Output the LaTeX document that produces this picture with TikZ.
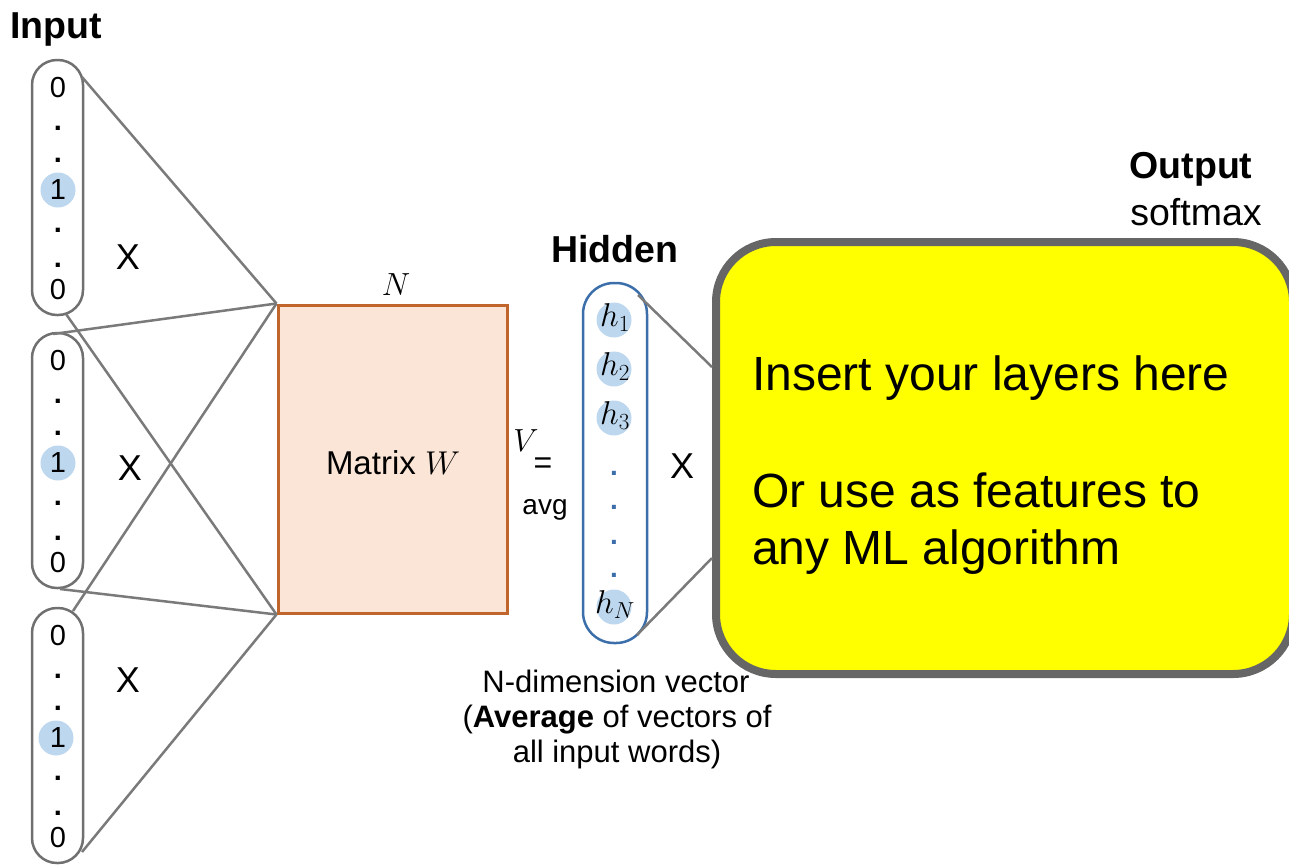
\RequirePackage{fix-cm}
\documentclass[tikz,border=0pt]{standalone}
\usepackage{fontspec}
\setmainfont{Liberation Sans}
\definecolor{vgray}{HTML}{707070}
\definecolor{lgray}{HTML}{7A7A7A}
\definecolor{hotblue}{HTML}{BDD7EE}
\definecolor{mfill}{HTML}{FBE5D6}
\definecolor{mborder}{HTML}{C0652B}
\definecolor{hblue}{HTML}{3C6FAA}
\definecolor{ygray}{HTML}{666666}
\definecolor{yfill}{HTML}{FFFF00}
\begin{document}
\begin{tikzpicture}[x=1pt,y=-1pt,
  vec/.style={draw=vgray, line width=2.5pt, rounded corners=25pt, minimum width=51pt, minimum height=255pt, inner sep=0pt},
  conn/.style={draw=lgray, line width=2.5pt},
  dig/.style={font=\fontsize{29}{32}\selectfont, inner sep=0pt},
  dotc/.style={font=\fontsize{29}{32}\selectfont\bfseries, inner sep=0pt},
  hot/.style={circle, fill=hotblue, minimum size=35pt, inner sep=0pt},
  hcirc/.style={circle, fill=hotblue, minimum size=35pt, inner sep=0pt},
  hlab/.style={font=\fontsize{33}{36}\selectfont, inner sep=0pt},
  hdot/.style={font=\fontsize{28}{30}\selectfont\bfseries, text=hblue, inner sep=0pt},
  bigx/.style={font=\fontsize{36}{40}\selectfont, inner sep=0pt},
  head/.style={font=\fontsize{37.5}{44}\selectfont\bfseries, inner sep=0pt, anchor=base},
  sub/.style={font=\fontsize{37.5}{44}\selectfont, inner sep=0pt, anchor=base},
  note/.style={font=\fontsize{31}{36}\selectfont, inner sep=0pt, anchor=base},
  ytext/.style={font=\fontsize{48}{58}\selectfont, inner sep=0pt, anchor=base west},
]
\clip (0,0) rectangle (1289,865);

% matrix W
\node[draw=mborder, fill=mfill, line width=3pt, minimum width=229pt, minimum height=308pt, inner sep=0pt] (W) at (392.5,459) {};
\node[font=\fontsize{33}{38}\selectfont, inner sep=0pt] (wl) at (393,463) {Matrix $W$};
\node[font=\fontsize{32}{36}\selectfont, inner sep=0pt] (nl) at (396,285) {$N$};

% input vectors
\node[head, anchor=base west] (inp) at (10,38) {Input};
\foreach \n/\t/\cx in {1/60/58,2/333/58,3/608/56}{
  \node[vec] (v\n) at (57.5,\t+127.5) {};
  \node[hot] (hc\n) at (\cx,\t+130) {};
  \node[dig] (d\n a) at (58,\t+28) {0};
  \node[dotc] (d\n b) at (58,\t+68) {.};
  \node[dotc] (d\n c) at (58,\t+100) {.};
  \node[dig] (d\n d) at (58,\t+130) {1};
  \node[dotc] (d\n e) at (58,\t+170) {.};
  \node[dotc] (d\n f) at (58,\t+205) {.};
  \node[dig] (d\n g) at (58,\t+230) {0};
}
\node[bigx] (x1) at (128,257) {X};
\node[bigx] (x2) at (130,468) {X};
\node[bigx] (x3) at (128,680) {X};

% connectors input -> matrix
\coordinate (a1) at (82,77);
\coordinate (b1) at (66,314);
\coordinate (a2) at (53,334);
\coordinate (b2) at (60,589);
\coordinate (a3) at (73,611);
\coordinate (b3) at (82,852);
\draw[conn] (a1) -- (W.north west);
\draw[conn] (b1) -- (W.south west);
\draw[conn] (a2) -- (W.north west);
\draw[conn] (b2) -- (W.south west);
\draw[conn] (a3) -- (W.north west);
\draw[conn] (b3) -- (W.south west);

% V = avg
\node[font=\fontsize{32}{36}\selectfont, inner sep=0pt] (vv) at (526,441) {$V$};
\node[font=\fontsize{32}{36}\selectfont, inner sep=0pt] (eq) at (543,466) {=};
\node[font=\fontsize{28}{32}\selectfont, inner sep=0pt, anchor=base] (avg) at (545,514) {avg};

% hidden
\node[head] (hid) at (615,262) {Hidden};
\node[draw=hblue, line width=2.5pt, rounded corners=31pt, minimum width=64pt, minimum height=360pt, inner sep=0pt] (H) at (615,463) {};
\node[hcirc] (hc1) at (614,320) {};
\node[hcirc] (hc2) at (614,369) {};
\node[hcirc] (hc3) at (614,418) {};
\node[hcirc] (hcN) at (614,607) {};
\node[hlab] (h1) at (615,318) {$h_1$};
\node[hlab] (h2) at (615,367) {$h_2$};
\node[hlab] (h3) at (615,416) {$h_3$};
\node[hlab] (hN) at (615,605) {$h_N$};
\node[hdot] (hd1) at (614,473) {.};
\node[hdot] (hd2) at (614,507) {.};
\node[hdot] (hd3) at (614,542) {.};
\node[hdot] (hd4) at (614,575) {.};
\node[bigx] (x4) at (682,466) {X};

% N-dimension caption
\node[note] (c1) at (616,692) {N-dimension vector};
\node[note] (c2) at (617,727) {(\textbf{Average} of vectors of};
\node[note] (c3) at (617,762) {all input words)};

% output box
\node[draw=ygray, fill=yfill, line width=8pt, rounded corners=60pt, minimum width=577pt, minimum height=432pt, inner sep=0pt] (Y) at (1004.5,458) {};
\coordinate (p1) at (638,295);
\coordinate (q1) at (712,367);
\coordinate (p2) at (637,635);
\coordinate (q2) at (712,558);
\draw[conn] (p1) -- (q1);
\draw[conn] (p2) -- (q2);

\node[ytext] (t1) at (752,390) {Insert your layers here};
\node[ytext] (t2) at (752,507) {Or use as features to};
\node[ytext] (t3) at (752,564) {any ML algorithm};

\node[head] (out) at (1191,178) {Output};
\node[sub] (soft) at (1196,225) {softmax};
\end{tikzpicture}
\end{document}
